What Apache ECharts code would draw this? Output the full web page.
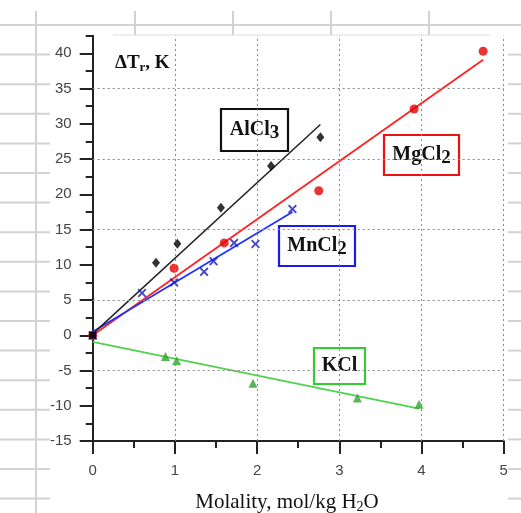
<!DOCTYPE html>
<html><head><meta charset="utf-8">
<script src="https://cdn.jsdelivr.net/npm/echarts@6/dist/echarts.min.js"></script>
<style>html,body{margin:0;padding:0;background:#fff}#c{width:521px;height:513px}</style>
</head><body><div id="c"></div>
<script>
// ---- data ----
const alcl3X = [0, 0.77, 1.03, 1.56, 2.17, 2.77];
const alcl3Y = [0, 10.3, 13.0, 18.1, 24.0, 28.1];
const mgcl2X = [0, 0.99, 1.60, 2.75, 3.91, 4.75];
const mgcl2Y = [0, 9.5, 13.1, 20.5, 32.1, 40.3];
const mncl2X = [0, 0.60, 0.99, 1.355, 1.47, 1.72, 1.98, 2.43];
const mncl2Y = [0, 6.0, 7.5, 9.0, 10.5, 13.1, 12.95, 17.9];
const kclX = [0, 0.885, 1.02, 1.95, 3.22, 3.97];
const kclY = [0, -3.0, -3.6, -6.8, -8.9, -9.8];
// fitted straight lines (end points)
const alcl3FitX = [0, 2.77], alcl3FitY = [0.2, 29.9];
const mgcl2FitX = [0, 4.75], mgcl2FitY = [0, 39.1];
const mncl2FitX = [0, 2.43], mncl2FitY = [0.5, 17.5];
const kclFitX = [0, 3.97], kclFitY = [-0.95, -10.4];
// axes / ticks
const xMin = 0, xMax = 5, xStep = 1;
const yMin = -15, yMax = 42.5, yMinorStep = 2.5;
const yMajorTicks = [-15, -10, -5, 0, 5, 10, 15, 20, 25, 30, 35, 40];
const xGridDotted = [1, 2, 3, 4, 5];
const yGridDotted = [-5, 5, 15, 25, 35];

const pairs = (xs, ys) => xs.map((x, i) => [x, ys[i]]);
const xMarker = 'path://M1.5,0 L5,3.5 L8.5,0 L10,1.5 L6.5,5 L10,8.5 L8.5,10 L5,6.5 L1.5,10 L0,8.5 L3.5,5 L0,1.5 Z';

// spreadsheet background lines (decoration)
const sheet = [];
const gcol = '#d2d2d2';
sheet.push({type:'line', shape:{x1:0,y1:25,x2:521,y2:25}, style:{stroke:gcol,lineWidth:2}, silent:true});
sheet.push({type:'line', shape:{x1:36,y1:11,x2:36,y2:513}, style:{stroke:gcol,lineWidth:2}, silent:true});
[135, 233, 331, 429].forEach(x => sheet.push({type:'line', shape:{x1:x,y1:11,x2:x,y2:35}, style:{stroke:gcol,lineWidth:2}, silent:true}));
for (let k = 1; k <= 16; k++) {
  const y = 25 + 29.6 * k;
  sheet.push({type:'line', shape:{x1:0,y1:y,x2:50,y2:y}, style:{stroke:gcol,lineWidth:2}, silent:true});
  sheet.push({type:'line', shape:{x1:508,y1:y,x2:521,y2:y}, style:{stroke:gcol,lineWidth:2}, silent:true});
}
sheet.push({type:'line', shape:{x1:113,y1:35,x2:490,y2:35}, style:{stroke:'#dedede',lineWidth:1}, silent:true});

function box(x, y, w, h, color, txt) {
  return {
    type: 'group', z: 100, silent: true,
    children: [
      {type:'rect', shape:{x:x, y:y, width:w, height:h}, style:{fill:'#fff', stroke:color, lineWidth:2.2}},
      {type:'text', style:{
        x: x + w / 2, y: y + h / 2, align:'center', verticalAlign:'middle',
        text: txt,
        rich: {
          a: {fontFamily:'Liberation Serif, Times New Roman, serif', fontWeight:'bold', fontSize:20, fill:'#111'},
          s: {fontFamily:'Liberation Serif, Times New Roman, serif', fontWeight:'bold', fontSize:19, fill:'#111', padding:[7,0,0,0]}
        }
      }}
    ]
  };
}

const chart = echarts.init(document.getElementById('c'), null, {renderer:'canvas'});
chart.setOption({
  animation: false,
  backgroundColor: '#fff',
  grid: {left: 92.7, top: 35.7, width: 411, height: 405.3},
  xAxis: [{
    type: 'value', min: xMin, max: xMax, interval: xStep,
    axisLine: {onZero: false, lineStyle: {color: '#222', width: 2}},
    axisTick: {show: true, inside: false, length: 13, lineStyle: {color: '#222', width: 2}},
    minorTick: {show: true, splitNumber: 2, length: 7, lineStyle: {color: '#222', width: 2}},
    axisLabel: {color: '#444', fontSize: 15, margin: 22, fontFamily: 'Liberation Sans, Arial, sans-serif'},
    splitLine: {show: false}
  }],
  yAxis: [{
    type: 'value', min: yMin, max: yMax, interval: yMinorStep, position: 'left',
    axisLine: {onZero: false, lineStyle: {color: '#222', width: 2}},
    axisTick: {show: true, inside: false, length: 7, lineStyle: {color: '#222', width: 2}},
    axisLabel: {color: '#444', fontSize: 15, margin: 21, fontFamily: 'Liberation Sans, Arial, sans-serif',
      formatter: v => (yMajorTicks.indexOf(v) >= 0 ? String(v) : '')},
    splitLine: {show: false}
  }, {
    type: 'value', min: yMin, max: yMax, interval: 5, position: 'left', offset: 0,
    axisLine: {show: false, onZero: false},
    axisTick: {show: true, inside: false, length: 13, customValues: yMajorTicks, lineStyle: {color: '#222', width: 2}},
    axisLabel: {show: false},
    splitLine: {show: false}
  }],
  graphic: sheet.concat([
    {type:'text', z:100, silent:true, style:{x:115, y:63, verticalAlign:'middle', text:'{b|ΔT}{s|r}{b|, K}',
      rich:{
        b:{fontFamily:'Liberation Serif, Times New Roman, serif', fontWeight:'bold', fontSize:19, fill:'#111'},
        s:{fontFamily:'Liberation Serif, Times New Roman, serif', fontWeight:'bold', fontSize:13, fill:'#111', padding:[9,0,0,0]}
      }}},
    {type:'text', z:100, silent:true, style:{x:287, y:502, align:'center', verticalAlign:'middle', text:'{b|Molality, mol/kg H}{s|2}{b|O}',
      rich:{
        b:{fontFamily:'Liberation Serif, Times New Roman, serif', fontSize:21, fill:'#111'},
        s:{fontFamily:'Liberation Serif, Times New Roman, serif', fontSize:14, fill:'#111', padding:[10,0,0,0]}
      }}},
    box(221, 109, 67, 42, '#111', '{a|AlCl}{s|3}'),
    box(384, 135, 75, 40, '#ee1111', '{a|MgCl}{s|2}'),
    box(279, 226, 76, 40, '#1a1aee', '{a|MnCl}{s|2}'),
    box(314, 348, 51, 36, '#33cc33', '{a|KCl}')
  ]),
  series: [
    {type:'line', name:'grid', data: [], z: 1, silent: true,
      markLine: {silent: true, symbol: ['none','none'], label: {show: false},
        lineStyle: {type: [2, 3], color: '#8a8a8a', width: 1},
        data: xGridDotted.map(v => ({xAxis: v})).concat(yGridDotted.map(v => ({yAxis: v})))}},
    {type:'line', name:'KCl fit', data: pairs(kclFitX, kclFitY), showSymbol:false, symbol:'none', z:3,
      lineStyle:{color:'#4fd34f', width:1.8}},
    {type:'line', name:'MgCl2 fit', data: pairs(mgcl2FitX, mgcl2FitY), symbol:'none', z:3,
      lineStyle:{color:'#ff2222', width:1.8}},
    {type:'line', name:'MnCl2 fit', data: pairs(mncl2FitX, mncl2FitY), symbol:'none', z:3,
      lineStyle:{color:'#2233ff', width:1.8}},
    {type:'line', name:'AlCl3 fit', data: pairs(alcl3FitX, alcl3FitY), symbol:'none', z:3,
      lineStyle:{color:'#222', width:1.5}},
    {type:'scatter', name:'KCl', data: pairs(kclX, kclY), symbol:'triangle', symbolSize:9, z:4,
      itemStyle:{color:'#2ea32e'}},
    {type:'scatter', name:'MgCl2', data: pairs(mgcl2X, mgcl2Y), symbol:'circle', symbolSize:9, z:4,
      itemStyle:{color:'#e60000'}},
    {type:'scatter', name:'MnCl2', data: pairs(mncl2X, mncl2Y), symbol:xMarker, symbolSize:9, z:4,
      itemStyle:{color:'#1a1ab8'}},
    {type:'scatter', name:'AlCl3', data: pairs(alcl3X, alcl3Y),
      symbol:(v, p) => (p.dataIndex === 0 ? 'rect' : 'diamond'),
      symbolSize:(v, p) => (p.dataIndex === 0 ? 7 : [8, 10]), z:5,
      itemStyle:{color:'#000'}}
  ]
});
</script></body></html>
